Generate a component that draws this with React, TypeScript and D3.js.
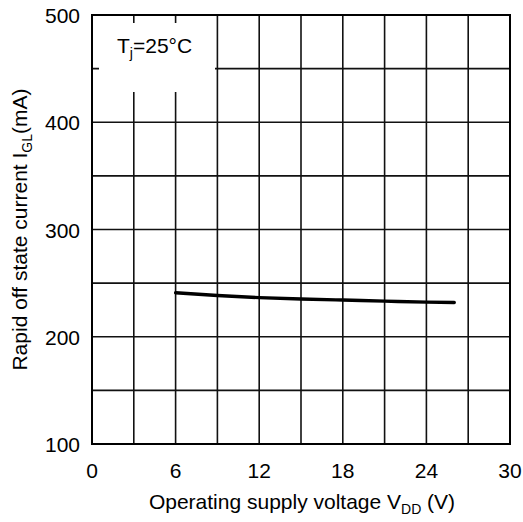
import React from "react";
import * as d3 from "d3";

// V_DD (V) vs rapid off state current I_GL (mA), Tj = 25°C
const vdd = [6, 9, 12, 15, 18, 21, 24, 26];
const igl = [241, 238.5, 236.5, 235.2, 234.2, 233.2, 232.3, 232];

const xTicks = [0, 6, 12, 18, 24, 30];
const yTicks = [100, 200, 300, 400, 500];
const xGrid = d3.range(0, 31, 3);
const yGrid = d3.range(100, 501, 50);

const W = 523;
const H = 522;
const margin = { top: 15, right: 13, bottom: 78, left: 92 };

export default function App() {
  const innerW = W - margin.left - margin.right;
  const innerH = H - margin.top - margin.bottom;

  const x = d3.scaleLinear().domain([0, 30]).range([0, innerW]);
  const y = d3.scaleLinear().domain([100, 500]).range([innerH, 0]);

  const line = d3
    .line<number>()
    .x((_, i) => x(vdd[i]))
    .y((d) => y(d))
    .curve(d3.curveMonotoneX);

  const font = "'Liberation Sans', Arial, sans-serif";
  const fs = 21;
  const sub = 14;

  return (
    <svg
      width={W}
      height={H}
      style={{ position: "absolute", left: 0, top: 0, background: "#fff" }}
      fontFamily={font}
    >
      <g transform={`translate(${margin.left},${margin.top})`}>
        {xGrid.map((v) => (
          <line
            key={"x" + v}
            x1={x(v)}
            x2={x(v)}
            y1={0}
            y2={innerH}
            stroke="#111"
            strokeWidth={1.6}
          />
        ))}
        {yGrid.map((v) => (
          <line
            key={"y" + v}
            x1={0}
            x2={innerW}
            y1={y(v)}
            y2={y(v)}
            stroke="#111"
            strokeWidth={1.6}
          />
        ))}
        {/* legend box */}
        <rect x={7} y={8} width={116} height={69} fill="#fff" />
        <text x={25} y={38} fontSize={fs} fill="#000">
          T
          <tspan fontSize={sub} dy={5}>
            j
          </tspan>
          <tspan dy={-5}>=25°C</tspan>
        </text>
        <rect
          x={0}
          y={0}
          width={innerW}
          height={innerH}
          fill="none"
          stroke="#000"
          strokeWidth={2}
        />
        <path
          d={line(igl) ?? ""}
          fill="none"
          stroke="#000"
          strokeWidth={3.4}
          strokeLinecap="round"
        />
        {xTicks.map((v) => (
          <text
            key={"xt" + v}
            x={x(v)}
            y={innerH + 34}
            fontSize={fs}
            textAnchor="middle"
            fill="#000"
          >
            {v}
          </text>
        ))}
        {yTicks.map((v) => (
          <text
            key={"yt" + v}
            x={-12}
            y={y(v) + 8}
            fontSize={fs}
            textAnchor="end"
            fill="#000"
          >
            {v}
          </text>
        ))}
        <text
          x={innerW / 2 + 1}
          y={innerH + 65}
          fontSize={fs}
          textAnchor="middle"
          fill="#000"
        >
          Operating supply voltage V
          <tspan fontSize={sub} dy={5}>
            DD
          </tspan>
          <tspan dy={-5}> (V)</tspan>
        </text>
        <text
          transform={`translate(${-65},${innerH / 2}) rotate(-90)`}
          fontSize={fs}
          textAnchor="middle"
          fill="#000"
        >
          Rapid off state current I
          <tspan fontSize={sub} dy={5}>
            GL
          </tspan>
          <tspan dy={-5}>(mA)</tspan>
        </text>
      </g>
    </svg>
  );
}
